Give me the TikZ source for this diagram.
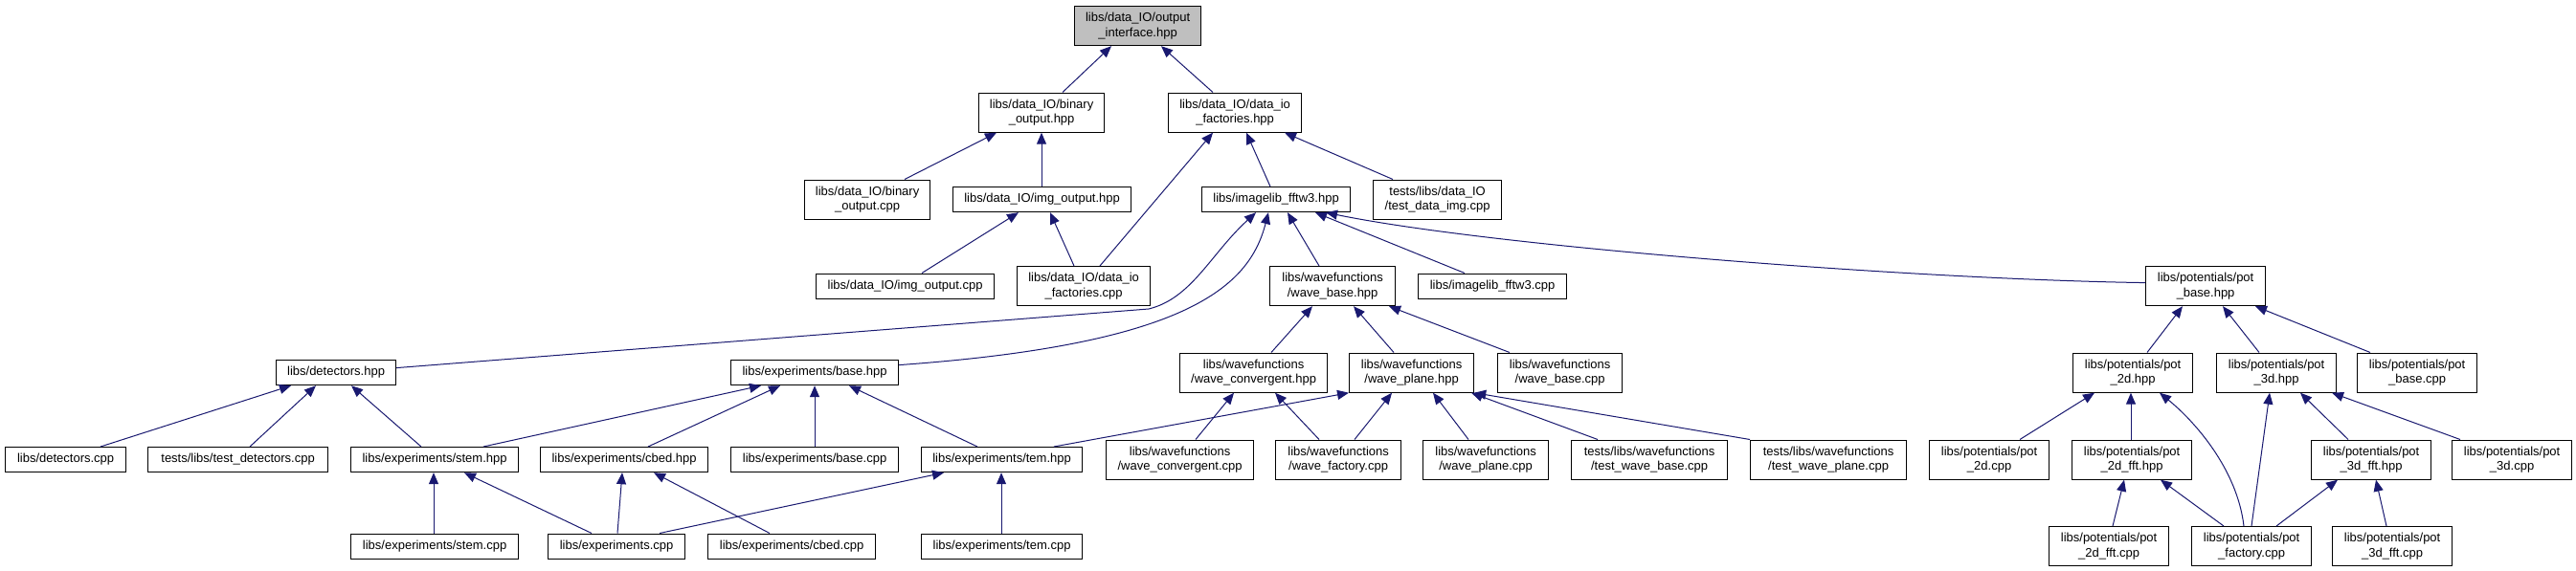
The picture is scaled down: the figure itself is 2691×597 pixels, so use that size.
\documentclass[tikz,border=0pt]{standalone}
\usepackage{fontspec}
\setmainfont{Liberation Sans}
\usetikzlibrary{arrows.meta}
\definecolor{edgeblue}{HTML}{191970}
\definecolor{rootgrey}{HTML}{BFBFBF}
\begin{document}
\begin{tikzpicture}[x=1pt,y=-1pt,
  box/.style={draw=black, line width=1.2pt, fill=white, inner sep=0pt, align=center,
    font=\fontsize{13}{15.4}\selectfont, anchor=north west},
  two/.style={box, minimum height=41pt},
  one/.style={box, minimum height=26pt},
  dep/.style={draw=edgeblue, line width=1pt, arrows={Triangle[length=12pt,width=10pt]-}}]
\useasboundingbox[fill=white] (0,0) rectangle (2691,597);
% rank 0
\node[two, fill=rootgrey, minimum width=132pt] (root) at (1122,6) {libs/data\_IO/output\\\_interface.hpp};
% rank 1
\node[two, minimum width=131pt] (boh) at (1022,96.5) {libs/data\_IO/binary\\\_output.hpp};
\node[two, minimum width=139pt] (difh) at (1220,96.5) {libs/data\_IO/data\_io\\\_factories.hpp};
% rank 2
\node[two, minimum width=131pt] (boc) at (840,187.5) {libs/data\_IO/binary\\\_output.cpp};
\node[one, minimum width=186pt] (ioh) at (995,195) {libs/data\_IO/img\_output.hpp};
\node[one, minimum width=155pt] (ifh) at (1255,195) {libs/imagelib\_fftw3.hpp};
\node[two, minimum width=134pt] (tdi) at (1434,187.5) {tests/libs/data\_IO\\/test\_data\_img.cpp};
% rank 3
\node[one, minimum width=186pt] (ioc) at (852,285.5) {libs/data\_IO/img\_output.cpp};
\node[two, minimum width=139pt] (difc) at (1062,278) {libs/data\_IO/data\_io\\\_factories.cpp};
\node[two, minimum width=131pt] (wbh) at (1326,278) {libs/wavefunctions\\/wave\_base.hpp};
\node[one, minimum width=155pt] (ifc) at (1481,285.5) {libs/imagelib\_fftw3.cpp};
\node[two, minimum width=125pt] (pbh) at (2241,278) {libs/potentials/pot\\\_base.hpp};
% rank 4
\node[one, minimum width=125pt] (deth) at (288,376) {libs/detectors.hpp};
\node[one, minimum width=175pt] (ebh) at (763,376) {libs/experiments/base.hpp};
\node[two, minimum width=154pt] (wch) at (1232,368.5) {libs/wavefunctions\\/wave\_convergent.hpp};
\node[two, minimum width=130pt] (wph) at (1409,368.5) {libs/wavefunctions\\/wave\_plane.hpp};
\node[two, minimum width=130pt] (wbc) at (1564,368.5) {libs/wavefunctions\\/wave\_base.cpp};
\node[two, minimum width=125pt] (p2h) at (2165,368.5) {libs/potentials/pot\\\_2d.hpp};
\node[two, minimum width=125pt] (p3h) at (2315,368.5) {libs/potentials/pot\\\_3d.hpp};
\node[two, minimum width=125pt] (pbc) at (2462,368.5) {libs/potentials/pot\\\_base.cpp};
% rank 5
\node[one, minimum width=126pt] (detc) at (5,467) {libs/detectors.cpp};
\node[one, minimum width=188pt] (tdet) at (154,467) {tests/libs/test\_detectors.cpp};
\node[one, minimum width=175pt] (sth) at (366,467) {libs/experiments/stem.hpp};
\node[one, minimum width=175pt] (cbh) at (564,467) {libs/experiments/cbed.hpp};
\node[one, minimum width=175pt] (ebc) at (763,467) {libs/experiments/base.cpp};
\node[one, minimum width=168pt] (tmh) at (962,467) {libs/experiments/tem.hpp};
\node[two, minimum width=154pt] (wcc) at (1155,459.5) {libs/wavefunctions\\/wave\_convergent.cpp};
\node[two, minimum width=131pt] (wfc) at (1332,459.5) {libs/wavefunctions\\/wave\_factory.cpp};
\node[two, minimum width=131pt] (wpc) at (1486,459.5) {libs/wavefunctions\\/wave\_plane.cpp};
\node[two, minimum width=163pt] (twb) at (1641,459.5) {tests/libs/wavefunctions\\/test\_wave\_base.cpp};
\node[two, minimum width=163pt] (twp) at (1828,459.5) {tests/libs/wavefunctions\\/test\_wave\_plane.cpp};
\node[two, minimum width=125pt] (p2c) at (2015,459.5) {libs/potentials/pot\\\_2d.cpp};
\node[two, minimum width=125pt] (p2fh) at (2164,459.5) {libs/potentials/pot\\\_2d\_fft.hpp};
\node[two, minimum width=125pt] (p3fh) at (2414,459.5) {libs/potentials/pot\\\_3d\_fft.hpp};
\node[two, minimum width=125pt] (p3c) at (2561,459.5) {libs/potentials/pot\\\_3d.cpp};
% rank 6
\node[one, minimum width=175pt] (stc) at (366,557.5) {libs/experiments/stem.cpp};
\node[one, minimum width=143pt] (exc) at (572,557.5) {libs/experiments.cpp};
\node[one, minimum width=175pt] (cbc) at (739,557.5) {libs/experiments/cbed.cpp};
\node[one, minimum width=168pt] (tmc) at (962,557.5) {libs/experiments/tem.cpp};
\node[two, minimum width=125pt] (p2fc) at (2140,550) {libs/potentials/pot\\\_2d\_fft.cpp};
\node[two, minimum width=125pt] (pfc) at (2289,550) {libs/potentials/pot\\\_factory.cpp};
\node[two, minimum width=125pt] (p3fc) at (2436,550) {libs/potentials/pot\\\_3d\_fft.cpp};
% edges
\draw[dep] ([xshift=39pt]root.south west) -- ([xshift=88pt]boh.north west);
\draw[dep] ([xshift=91pt]root.south west) -- ([xshift=47pt]difh.north west);
\draw[dep] ([xshift=19pt]boh.south west) -- ([xshift=105pt]boc.north west);
\draw[dep] ([xshift=66pt]boh.south west) -- ([xshift=93pt]ioh.north west);
\draw[dep] ([xshift=47pt]difh.south west) -- ([xshift=87pt]difc.north west);
\draw[dep] ([xshift=82pt]difh.south west) -- ([xshift=72pt]ifh.north west);
\draw[dep] ([xshift=122pt]difh.south west) -- ([xshift=21pt]tdi.north west);
\draw[dep] ([xshift=69pt]ioh.south west) -- ([xshift=111pt]ioc.north west);
\draw[dep] ([xshift=102pt]ioh.south west) -- ([xshift=60pt]difc.north west);
\draw[dep] ([xshift=57pt]ifh.south west) .. controls (1265,265) and (1245,312) .. (1200,323) -- ([yshift=5pt]deth.east);
\draw[dep] ([xshift=70pt]ifh.south west) .. controls (1305,300) and (1240,360) .. ([yshift=8pt]ebh.east);
\draw[dep] ([xshift=90pt]ifh.south west) -- ([xshift=52pt]wbh.north west);
\draw[dep] ([xshift=119pt]ifh.south west) -- ([xshift=49pt]ifc.north west);
\draw[dep] ([xshift=130pt]ifh.south west) .. controls (1560,258) and (2000,292) .. ([yshift=3.5pt]pbh.west);
\draw[dep] ([xshift=45pt]wbh.south west) -- ([xshift=96pt]wch.north west);
\draw[dep] ([xshift=88pt]wbh.south west) -- ([xshift=47pt]wph.north west);
\draw[dep] ([xshift=125pt]wbh.south west) -- ([xshift=13pt]wbc.north west);
\draw[dep] ([xshift=39pt]pbh.south west) -- ([xshift=78pt]p2h.north west);
\draw[dep] ([xshift=81pt]pbh.south west) -- ([xshift=45pt]p3h.north west);
\draw[dep] ([xshift=115pt]pbh.south west) -- ([xshift=14pt]pbc.north west);
\draw[dep] ([xshift=16pt]deth.south west) -- ([xshift=100pt]detc.north west);
\draw[dep] ([xshift=42pt]deth.south west) -- ([xshift=107pt]tdet.north west);
\draw[dep] ([xshift=79pt]deth.south west) -- ([xshift=74pt]sth.north west);
\draw[dep] ([xshift=32pt]ebh.south west) -- ([xshift=139pt]sth.north west);
\draw[dep] ([xshift=52pt]ebh.south west) -- ([xshift=113pt]cbh.north west);
\draw[dep] ([xshift=88pt]ebh.south west) -- ([xshift=88pt]ebc.north west);
\draw[dep] ([xshift=124pt]ebh.south west) -- ([xshift=59pt]tmh.north west);
\draw[dep] ([xshift=57pt]wch.south west) -- ([xshift=94pt]wcc.north west);
\draw[dep] ([xshift=100pt]wch.south west) -- ([xshift=46pt]wfc.north west);
\draw[dep] (wph.south west) -- ([xshift=139pt]tmh.north west);
\draw[dep] ([xshift=45pt]wph.south west) -- ([xshift=83pt]wfc.north west);
\draw[dep] ([xshift=88pt]wph.south west) -- ([xshift=48pt]wpc.north west);
\draw[dep] ([xshift=128pt]wph.south west) -- ([xshift=28pt]twb.north west);
\draw[dep] (wph.south east) -- (twp.north west);
\draw[dep] ([xshift=87pt]sth.south west) -- ([xshift=87pt]stc.north west);
\draw[dep] ([xshift=119pt]sth.south west) -- ([xshift=46pt]exc.north west);
\draw[dep] ([xshift=86pt]cbh.south west) -- ([xshift=73pt]exc.north west);
\draw[dep] ([xshift=119pt]cbh.south west) -- ([xshift=65pt]cbc.north west);
\draw[dep] ([xshift=24pt]tmh.south west) -- ([xshift=117pt]exc.north west);
\draw[dep] ([xshift=84pt]tmh.south west) -- ([xshift=84pt]tmc.north west);
\draw[dep] ([xshift=23pt]p2h.south west) -- ([xshift=95pt]p2c.north west);
\draw[dep] ([xshift=61pt]p2h.south west) -- ([xshift=62pt]p2fh.north west);
\draw[dep] ([xshift=91pt]p2h.south west) .. controls (2292,440) and (2337,490) .. ([xshift=55pt]pfc.north west);
\draw[dep] ([xshift=56pt]p3h.south west) -- ([xshift=63pt]pfc.north west);
\draw[dep] ([xshift=88pt]p3h.south west) -- ([xshift=39pt]p3fh.north west);
\draw[dep] ([xshift=121pt]p3h.south west) -- ([xshift=9pt]p3c.north west);
\draw[dep] ([xshift=55pt]p2fh.south west) -- ([xshift=67pt]p2fc.north west);
\draw[dep] ([xshift=93pt]p2fh.south west) -- ([xshift=34pt]pfc.north west);
\draw[dep] ([xshift=28pt]p3fh.south west) -- ([xshift=89pt]pfc.north west);
\draw[dep] ([xshift=68pt]p3fh.south west) -- ([xshift=57pt]p3fc.north west);
\end{tikzpicture}
\end{document}
